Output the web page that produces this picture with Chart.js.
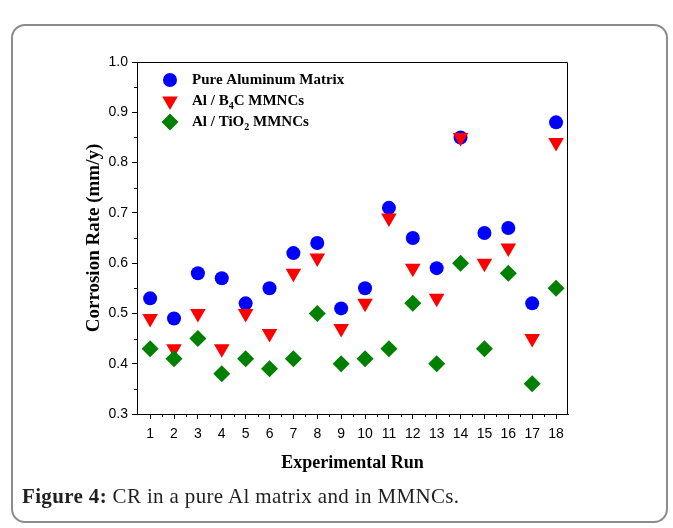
<!DOCTYPE html>
<html><head><meta charset="utf-8">
<script src="https://cdn.jsdelivr.net/npm/chart.js@4/dist/chart.umd.min.js"></script>
<style>
html,body{margin:0;padding:0;background:#fff;}
#wrap{position:relative;width:673px;height:528px;overflow:hidden;background:#fff;}
#frame{position:absolute;left:11px;top:24px;width:657px;height:499px;border:2px solid #8c8c8c;border-radius:14px;box-sizing:border-box;}
#cap{position:absolute;left:22px;top:486px;font-family:"Liberation Serif","Times New Roman",serif;font-size:21px;line-height:21px;letter-spacing:0.35px;color:#231f20;white-space:nowrap;}
canvas{position:absolute;left:0;top:0;}
</style></head><body>
<div id="wrap"><div id="frame"></div><canvas id="c" width="673" height="528"></canvas><div id="cap"><b>Figure 4:</b> CR in a pure Al matrix and in MMNCs.</div></div>
<script>
const runs = [1,2,3,4,5,6,7,8,9,10,11,12,13,14,15,16,17,18];
const pureAl = [0.53,0.49,0.58,0.57,0.52,0.55,0.62,0.64,0.51,0.55,0.71,0.65,0.59,0.85,0.66,0.67,0.52,0.88];
const alB4C  = [0.49,0.43,0.50,0.43,0.50,0.46,0.58,0.61,0.47,0.52,0.69,0.59,0.53,0.85,0.60,0.63,0.45,0.84];
const alTiO2 = [0.43,0.41,0.45,0.38,0.41,0.39,0.41,0.50,0.40,0.41,0.43,0.52,0.40,0.60,0.43,0.58,0.36,0.55];
const seriesLabels = ['Pure Aluminum Matrix','Al / B_4C MMNCs','Al / TiO_2 MMNCs'];
const yTicks = [0.3,0.4,0.5,0.6,0.7,0.8,0.9,1.0];
const yMinorTicks = [0.35,0.45,0.55,0.65,0.75,0.85,0.95];
const xMinorTicks = [1.5,2.5,3.5,4.5,5.5,6.5,7.5,8.5,9.5,10.5,11.5,12.5,13.5,14.5,15.5,16.5,17.5];

const styles = [
  {color:'#0000ff', pointStyle:'circle', radius:7, rotation:0},
  {color:'#ff0000', pointStyle:'triangle', radius:9, rotation:180},
  {color:'#008000', pointStyle:'rectRot', radius:8.5, rotation:0}
];
const seriesData = [pureAl, alB4C, alTiO2];

function drawMarker(ctx, st, x, y){
  ctx.fillStyle = st.color;
  if (Chart.helpers && Chart.helpers.drawPoint) {
    Chart.helpers.drawPoint(ctx, {pointStyle:st.pointStyle, rotation:st.rotation, radius:st.radius, borderWidth:0}, x, y);
    return;
  }
  ctx.beginPath();
  if (st.pointStyle==='circle') ctx.arc(x,y,st.radius,0,Math.PI*2);
  else if (st.pointStyle==='triangle'){const r=st.radius;ctx.moveTo(x-r*0.866,y-r/2);ctx.lineTo(x+r*0.866,y-r/2);ctx.lineTo(x,y+r);}
  else {const r=st.radius;ctx.moveTo(x-r,y);ctx.lineTo(x,y-r);ctx.lineTo(x+r,y);ctx.lineTo(x,y+r);}
  ctx.closePath();ctx.fill();
}

const extras = {
  id:'extras',
  afterDraw(chart){
    const {ctx, chartArea:a, scales:{x,y}} = chart;
    ctx.save();
    ctx.strokeStyle='#000'; ctx.lineWidth=1;
    ctx.beginPath();
    ctx.moveTo(a.left, a.top+0.5); ctx.lineTo(a.right-0.5, a.top+0.5); ctx.lineTo(a.right-0.5, a.bottom);
    ctx.stroke();
    ctx.beginPath();
    for (const v of yMinorTicks){const p=Math.round(y.getPixelForValue(v))+0.5;ctx.moveTo(a.left-3,p);ctx.lineTo(a.left,p);}
    for (const v of xMinorTicks){const p=Math.round(x.getPixelForValue(v))+0.5;ctx.moveTo(p,a.bottom);ctx.lineTo(p,a.bottom+3);}
    ctx.stroke();
    const rowsY=[80,101,122];
    const mainFont='bold 15px "Liberation Serif","Times New Roman",serif';
    const subFont='bold 10px "Liberation Serif","Times New Roman",serif';
    seriesLabels.forEach((lab,i)=>{
      drawMarker(ctx, styles[i], 170, rowsY[i]);
      ctx.fillStyle='#000'; ctx.textBaseline='middle'; ctx.textAlign='left';
      let tx=192;
      const parts = lab.split(/_(\d)/);
      parts.forEach((p,j)=>{
        if (j%2===1){ctx.font=subFont;ctx.fillText(p,tx,rowsY[i]+5);tx+=ctx.measureText(p).width;}
        else {ctx.font=mainFont;ctx.fillText(p,tx,rowsY[i]);tx+=ctx.measureText(p).width;}
      });
    });
    ctx.restore();
  }
};

const tickFont = {family:'"Liberation Sans", Arial, sans-serif', size:14};
const titleFont = {family:'"Liberation Serif","Times New Roman",serif', size:18, weight:'bold'};
const yTitleFont = {family:'"Liberation Serif","Times New Roman",serif', size:19, weight:'bold'};

new Chart(document.getElementById('c'), {
  type:'scatter',
  data:{datasets: seriesData.map((d,i)=>({
    label: seriesLabels[i].replace('_',''),
    data: runs.map((r,k)=>({x:r, y:d[k]})),
    backgroundColor: styles[i].color,
    borderColor: styles[i].color,
    pointStyle: styles[i].pointStyle,
    pointRotation: styles[i].rotation,
    pointRadius: styles[i].radius,
    pointHoverRadius: styles[i].radius,
    pointBorderWidth: 0,
    order: 3-i
  }))},
  options:{
    responsive:false, animation:false, devicePixelRatio:1,
    layout:{padding:{left:71, top:62, right:105, bottom:50}},
    plugins:{legend:{display:false}, tooltip:{enabled:false}},
    scales:{
      x:{type:'linear', min:0.45, max:18.5,
        afterBuildTicks:s=>{s.ticks=runs.map(v=>({value:v}));},
        afterFit:s=>{s.height=64;},
        ticks:{font:tickFont, color:'#000', padding:7, maxRotation:0, autoSkip:false, callback:v=>String(v)},
        grid:{drawOnChartArea:false, drawTicks:true, tickLength:5, color:'#000'},
        border:{display:true, color:'#000', width:1},
        title:{display:true, text:'Experimental Run', font:titleFont, color:'#000', padding:{top:0,bottom:4}}
      },
      y:{type:'linear', min:0.3, max:1.0,
        afterBuildTicks:s=>{s.ticks=yTicks.map(v=>({value:v}));},
        afterFit:s=>{s.width=66;},
        ticks:{font:tickFont, color:'#000', padding:4, callback:v=>Number(v).toFixed(1)},
        grid:{drawOnChartArea:false, drawTicks:true, tickLength:5, color:'#000'},
        border:{display:true, color:'#000', width:1},
        title:{display:true, text:'Corrosion Rate (mm/y)', font:yTitleFont, color:'#000', padding:{top:12,bottom:0}}
      }
    }
  },
  plugins:[extras]
});
</script>
</body></html>
